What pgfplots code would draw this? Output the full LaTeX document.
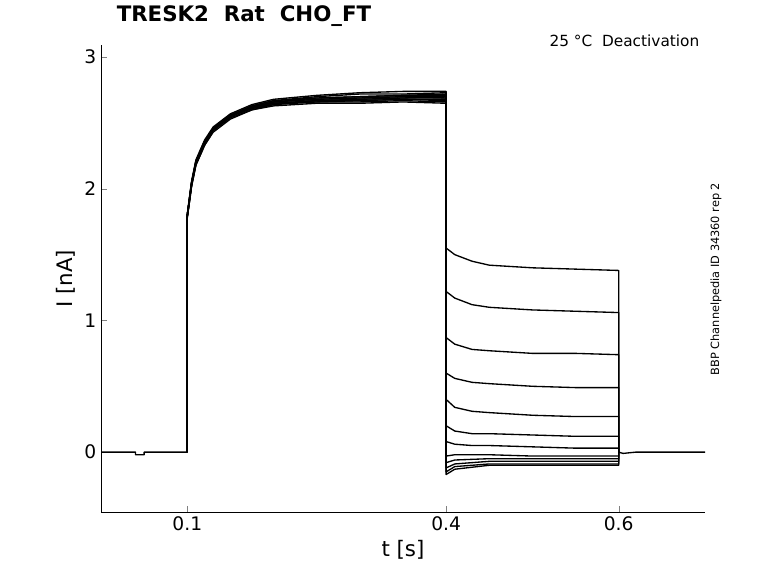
\documentclass[border=0pt]{standalone}
\usepackage{fontspec}
\setmainfont{DejaVu Sans}
\usepackage{pgfplots}
\pgfplotsset{compat=1.18}
\begin{document}
\begin{tikzpicture}
\path (0,0) rectangle (583.5pt,437.25pt);
\begin{axis}[at={(75.75pt,53.25pt)},anchor=south west,scale only axis,
 width=453pt,height=350pt,xmin=0,xmax=0.7,ymin=-0.455,ymax=3.09,
 axis x line*=bottom, axis y line*=left, tick align=inside,
 xtick={0.1,0.4,0.6}, xticklabels={0.1,0.4,0.6}, ytick={0,1,2,3},
 /pgf/number format/assume math mode=true,
 tick label style={font=\fontsize{14}{16}\selectfont},
 label style={font=\fontsize{16}{19}\selectfont},
 xlabel={t [s]}, ylabel={I [nA]},
 cycle list={{black,solid,mark=none}},
 every axis plot/.append style={line width=1pt,line join=round},
 clip=false]
\addplot coordinates {(0,0)(0.04,0)(0.04,-0.02)(0.05,-0.02)(0.05,0)(0.1,0)(0.1,1.8)(0.105,2.05)(0.11,2.2)(0.12,2.35)(0.13,2.45)(0.15,2.55)(0.175,2.62)(0.2,2.66)(0.25,2.69)(0.3,2.70)(0.35,2.71)(0.4,2.72)(0.4,1.55)(0.41,1.50)(0.43,1.45)(0.45,1.42)(0.5,1.40)(0.55,1.39)(0.6,1.38)(0.6,0)(0.605,-0.01)(0.62,0)(0.7,0)};
\addplot coordinates {(0.1,0)(0.1,1.78)(0.105,2.02)(0.11,2.18)(0.12,2.33)(0.13,2.44)(0.15,2.54)(0.175,2.60)(0.2,2.64)(0.25,2.67)(0.3,2.68)(0.35,2.69)(0.4,2.70)(0.4,1.22)(0.41,1.17)(0.43,1.12)(0.45,1.10)(0.5,1.08)(0.55,1.07)(0.6,1.06)(0.6,0)};
\addplot coordinates {(0.1,0)(0.1,1.8)(0.105,2.04)(0.11,2.21)(0.12,2.36)(0.13,2.46)(0.15,2.56)(0.175,2.63)(0.2,2.67)(0.25,2.70)(0.3,2.72)(0.35,2.72)(0.4,2.73)(0.4,0.87)(0.41,0.82)(0.43,0.78)(0.45,0.77)(0.5,0.75)(0.55,0.75)(0.6,0.74)(0.6,0)};
\addplot coordinates {(0.1,0)(0.1,1.79)(0.105,2.03)(0.11,2.19)(0.12,2.34)(0.13,2.45)(0.15,2.55)(0.175,2.61)(0.2,2.65)(0.25,2.67)(0.3,2.67)(0.35,2.68)(0.4,2.68)(0.4,0.60)(0.41,0.56)(0.43,0.53)(0.45,0.52)(0.5,0.50)(0.55,0.49)(0.6,0.49)(0.6,0)};
\addplot coordinates {(0.1,0)(0.1,1.8)(0.105,2.05)(0.11,2.2)(0.12,2.35)(0.13,2.45)(0.15,2.55)(0.175,2.62)(0.2,2.65)(0.25,2.66)(0.3,2.66)(0.35,2.67)(0.4,2.66)(0.4,0.40)(0.41,0.34)(0.43,0.31)(0.45,0.30)(0.5,0.28)(0.55,0.27)(0.6,0.27)(0.6,0)};
\addplot coordinates {(0.1,0)(0.1,1.81)(0.105,2.06)(0.11,2.22)(0.12,2.37)(0.13,2.47)(0.15,2.57)(0.175,2.64)(0.2,2.68)(0.25,2.71)(0.3,2.73)(0.35,2.74)(0.4,2.74)(0.4,0.20)(0.41,0.16)(0.43,0.14)(0.45,0.14)(0.5,0.13)(0.55,0.12)(0.6,0.12)(0.6,0)};
\addplot coordinates {(0.1,0)(0.1,1.78)(0.105,2.02)(0.11,2.18)(0.12,2.33)(0.13,2.43)(0.15,2.53)(0.175,2.60)(0.2,2.63)(0.25,2.65)(0.3,2.65)(0.35,2.66)(0.4,2.65)(0.4,0.08)(0.41,0.06)(0.43,0.05)(0.45,0.05)(0.5,0.04)(0.55,0.03)(0.6,0.03)(0.6,0)};
\addplot coordinates {(0.1,0)(0.1,1.8)(0.105,2.04)(0.11,2.2)(0.12,2.35)(0.13,2.46)(0.15,2.56)(0.175,2.62)(0.2,2.66)(0.25,2.68)(0.3,2.69)(0.35,2.70)(0.4,2.69)(0.4,-0.03)(0.41,-0.02)(0.45,-0.02)(0.5,-0.03)(0.6,-0.03)(0.6,0)};
\addplot coordinates {(0.1,0)(0.1,1.79)(0.105,2.03)(0.11,2.19)(0.12,2.34)(0.13,2.45)(0.15,2.55)(0.175,2.61)(0.2,2.64)(0.25,2.66)(0.3,2.67)(0.35,2.68)(0.4,2.67)(0.4,-0.08)(0.41,-0.06)(0.45,-0.05)(0.5,-0.05)(0.6,-0.05)(0.6,0)};
\addplot coordinates {(0.1,0)(0.1,1.8)(0.105,2.05)(0.11,2.21)(0.12,2.36)(0.13,2.46)(0.15,2.56)(0.175,2.63)(0.2,2.67)(0.25,2.69)(0.3,2.70)(0.35,2.71)(0.4,2.71)(0.4,-0.12)(0.41,-0.09)(0.45,-0.07)(0.5,-0.07)(0.6,-0.07)(0.6,0)};
\addplot coordinates {(0.1,0)(0.1,1.8)(0.105,2.04)(0.11,2.2)(0.12,2.35)(0.13,2.45)(0.15,2.55)(0.175,2.62)(0.2,2.65)(0.25,2.67)(0.3,2.68)(0.35,2.69)(0.4,2.69)(0.4,-0.15)(0.41,-0.11)(0.45,-0.09)(0.5,-0.09)(0.6,-0.09)(0.6,0)};
\addplot coordinates {(0.1,0)(0.1,1.79)(0.105,2.03)(0.11,2.2)(0.12,2.35)(0.13,2.45)(0.15,2.55)(0.175,2.62)(0.2,2.66)(0.25,2.68)(0.3,2.69)(0.35,2.70)(0.4,2.70)(0.4,-0.17)(0.41,-0.13)(0.45,-0.10)(0.5,-0.10)(0.6,-0.10)(0.6,0)};
\end{axis}
\node[font=\fontsize{16}{19}\selectfont\bfseries] at (183pt,425pt) {TRESK2\ \ Rat\ \ CHO\_FT};
\node[font=\fontsize{11.5}{13}\selectfont,anchor=east] at (528pt,407pt) {25 °C\ \ Deactivation};
\node[font=\fontsize{8.5}{10}\selectfont,rotate=90] at (537pt,228pt) {BBP Channelpedia ID 34360 rep 2};
\end{tikzpicture}
\end{document}
